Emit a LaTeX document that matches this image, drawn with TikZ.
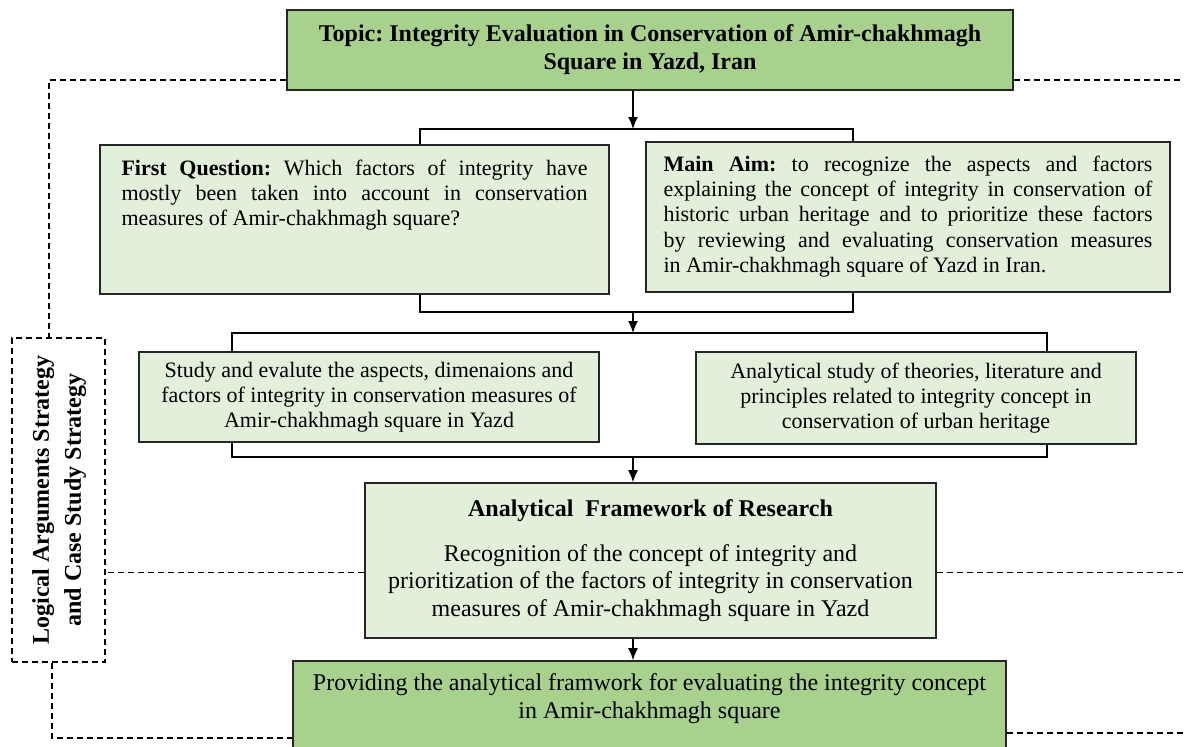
\documentclass[tikz,border=0pt]{standalone}
\usepackage{fontspec}
\setmainfont{Liberation Serif}
\usepackage{graphicx}
\usetikzlibrary{arrows.meta}
\definecolor{topicgreen}{HTML}{A9D18E}
\definecolor{boxgreen}{HTML}{E2EFDA}
\frenchspacing

\begin{document}
\begin{tikzpicture}[x=0.5pt,y=-0.5pt,
    box/.style={draw=black!85, line width=0.8pt, fill=boxgreen, inner sep=0pt},
    topicbox/.style={box, fill=topicgreen},
    link/.style={line width=0.7pt},
    arr/.style={link, -{Latex[length=6pt,width=5pt]}},
    dashline/.style={line width=0.7pt, dash pattern=on 3pt off 2pt},
    smalltext/.style={font=\fontsize{11}{12.6}\selectfont},
    bigtext/.style={font=\fontsize{12}{14}\selectfont}]
    \useasboundingbox (0,0) rectangle (1184,746);
    \coordinate (edge) at (1190,0);

    \node[topicbox, minimum width=363pt, minimum height=40pt, font=\bfseries\fontsize{12}{14}\selectfont, align=center] (topic) at (650,50)
        {Topic: Integrity Evaluation in Conservation of Amir-chakhmagh\\Square in Yazd, Iran};
    \node[box, minimum width=254.5pt, minimum height=74.5pt, smalltext] (q1) at (354.5,219.5)
        {\parbox[c][60pt][t]{233pt}{\textbf{First Question:} Which factors of integrity have\linebreak
        mostly been taken into account in conservation\linebreak measures of Amir-chakhmagh square?}\hspace{4.5pt}};
    \node[box, minimum width=262pt, minimum height=75pt, smalltext] (aim) at (908,217)
        {\parbox[c][61pt][t]{244.5pt}{\textbf{Main Aim:} to recognize the aspects and factors\linebreak
        explaining the concept of integrity in conservation of\linebreak
        historic urban heritage and to prioritize these factors\linebreak
        by reviewing and evaluating conservation measures\linebreak
        in Amir-chakhmagh square of Yazd in Iran.}};
    \node[box, minimum width=230pt, minimum height=45pt, smalltext, align=center] (study) at (369,397)
        {Study and evalute the aspects, dimenaions and\\factors of integrity in conservation measures of\\Amir-chakhmagh square in Yazd};
    \node[box, minimum width=220pt, minimum height=46pt, smalltext, align=center] (anal) at (916,398)
        {Analytical study of theories, literature and\\principles related to integrity concept in\\conservation of urban heritage};
    \node[box, minimum width=285.5pt, minimum height=77.5pt, font=\fontsize{12}{13.75}\selectfont, align=center] (frame) at (650.5,560.5)
        {\textbf{Analytical\ \ Framework of Research}\\[8.5pt]Recognition of the concept of integrity and\\
        prioritization of the factors of integrity in conservation\\measures of Amir-chakhmagh square in Yazd};
    \node[topicbox, minimum width=356.5pt, minimum height=60pt, bigtext] (final) at (649.5,721)
        {\parbox[c][47.6pt][t]{345pt}{\centering Providing the analytical framwork for evaluating the integrity concept\\in Amir-chakhmagh square}};
    \node[draw, dashline, minimum width=46.5pt, minimum height=162pt, font=\bfseries\fontsize{12}{16}\selectfont] (strat) at (58.5,500)
        {\rotatebox{90}{\begin{tabular}{@{}c@{}}Logical Arguments Strategy\\and Case Study Strategy\end{tabular}}};

    \coordinate (a1) at (633,129);
    \coordinate (a2) at (633,312);
    \coordinate (a3) at (633,333);
    \coordinate (a4) at (633,457);
    \draw[arr] (a1 |- topic.south) -- (a1);
    \draw[link] ([xshift=32.75pt]q1.north) |- (a1) -| ([xshift=-27.5pt]aim.north);
    \draw[link] ([xshift=32.75pt]q1.south) |- (a2) -| ([xshift=-27.5pt]aim.south);
    \draw[arr] (a2) -- (a3);
    \draw[link] ([xshift=-68.5pt]study.north) |- (a3) -| ([xshift=65.5pt]anal.north);
    \draw[link] ([xshift=-68.5pt]study.south) |- (a4) -| ([xshift=65.5pt]anal.south);
    \draw[arr] (a4) -- (a4 |- frame.north);
    \draw[arr] (a4 |- frame.south) -- (a4 |- final.north);

    \draw[dashline] ([yshift=5.5pt]topic.south west) -| ([xshift=-4.75pt]strat.north);
    \draw[dashline] ([yshift=5.5pt]topic.south east) -- ([yshift=5.5pt]topic.south east -| edge);
    \draw[dashline] ([yshift=-6pt]frame.west) -- ([yshift=-6pt]frame.west -| strat.east);
    \draw[dashline] ([yshift=-6pt]frame.east) -- ([yshift=-6pt]frame.east -| edge);
    \draw[dashline] ([xshift=-3.25pt]strat.south) |- ([yshift=-8.5pt]final.west);
    \draw[dashline] ([yshift=-6pt]final.east) -- ([yshift=-6pt]final.east -| edge);
\end{tikzpicture}
\end{document}
